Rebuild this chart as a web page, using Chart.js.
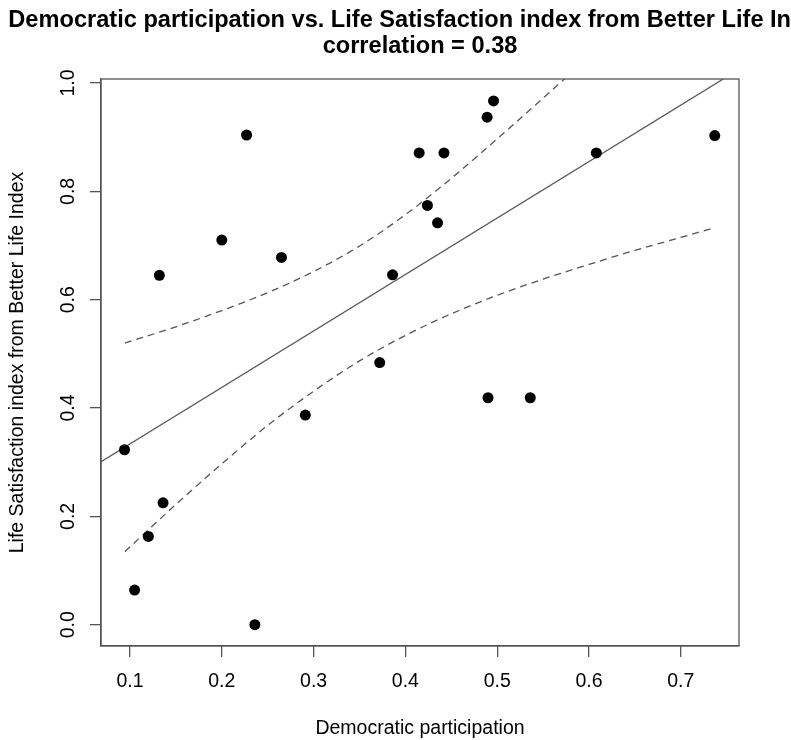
<!DOCTYPE html>
<html><head><meta charset="utf-8">
<script src="https://cdn.jsdelivr.net/npm/chart.js@4/dist/chart.umd.min.js"></script>
<style>html,body{margin:0;padding:0;background:#fff;} canvas{display:block;}</style>
</head><body>
<canvas id="c" width="791" height="740"></canvas>
<script>
const titleLines = ['Democratic participation vs. Life Satisfaction index from Better Life Index', 'correlation = 0.38'];
const xLabel = 'Democratic participation';
const yLabel = 'Life Satisfaction index from Better Life Index';
const xTicks = [0.1, 0.2, 0.3, 0.4, 0.5, 0.6, 0.7];
const xTickLabels = ['0.1', '0.2', '0.3', '0.4', '0.5', '0.6', '0.7'];
const yTicks = [0.0, 0.2, 0.4, 0.6, 0.8, 1.0];
const yTickLabels = ['0.0', '0.2', '0.4', '0.6', '0.8', '1.0'];
const xRange = [0.0684, 0.7634];
const yRange = [-0.0393, 1.0074];

const participation = [0.094, 0.105, 0.120, 0.136, 0.132, 0.200, 0.227, 0.236, 0.265, 0.291, 0.372, 0.386, 0.415, 0.424, 0.435, 0.442, 0.489, 0.490, 0.496, 0.536, 0.608, 0.737];
const satisfaction  = [0.323, 0.064, 0.163, 0.225, 0.645, 0.710, 0.904, 0.000, 0.678, 0.387, 0.484, 0.646, 0.871, 0.774, 0.742, 0.871, 0.937, 0.419, 0.967, 0.419, 0.871, 0.903];

const fitX = [0.0684, 0.7463];
const fitY = [0.301, 1.0074];
const upperX = [0.0944, 0.15, 0.20, 0.25, 0.30, 0.35, 0.40, 0.45, 0.50, 0.55, 0.58];
const upperY = [0.520, 0.550, 0.580, 0.613, 0.652, 0.699, 0.757, 0.824, 0.897, 0.972, 1.018];
const lowerX = [0.0944, 0.15, 0.20, 0.25, 0.30, 0.35, 0.40, 0.45, 0.50, 0.55, 0.60, 0.65, 0.70, 0.737];
const lowerY = [0.135, 0.222, 0.297, 0.368, 0.431, 0.487, 0.534, 0.574, 0.608, 0.638, 0.665, 0.691, 0.715, 0.733];

const FAMILY = '"Liberation Sans", Arial, Helvetica, sans-serif';
const AXIS_COLOR = '#555';
const pairs = (xs, ys) => xs.map((x, i) => ({x: x, y: ys[i]}));

const textPlugin = {
  id: 'rtext',
  afterDraw(chart) {
    const {ctx, chartArea, scales} = chart;
    ctx.save();
    ctx.strokeStyle = AXIS_COLOR;
    ctx.lineWidth = 1.3;
    ctx.strokeRect(chartArea.left, chartArea.top, chartArea.right - chartArea.left, chartArea.bottom - chartArea.top);
    ctx.fillStyle = '#000';
    ctx.textAlign = 'center';
    ctx.textBaseline = 'middle';
    const cx = (chartArea.left + chartArea.right) / 2;
    ctx.font = 'bold 23.6px ' + FAMILY;
    ctx.fillText(titleLines[0], cx, 20);
    ctx.fillText(titleLines[1], cx, 46);
    ctx.font = '19.5px ' + FAMILY;
    xTicks.forEach((v, i) => ctx.fillText(xTickLabels[i], scales.x.getPixelForValue(v), 682));
    yTicks.forEach((v, i) => {
      ctx.save();
      ctx.translate(68.5, scales.y.getPixelForValue(v));
      ctx.rotate(-Math.PI / 2);
      ctx.fillText(yTickLabels[i], 0, 0);
      ctx.restore();
    });
    ctx.restore();
  }
};

const lineStyle = {
  showLine: true, pointRadius: 0, pointHoverRadius: 0, borderColor: AXIS_COLOR,
  borderWidth: 1.3, fill: false, order: 1
};

new Chart(document.getElementById('c'), {
  type: 'scatter',
  data: {
    datasets: [
      {data: pairs(participation, satisfaction), pointRadius: 5.5, pointHoverRadius: 5.5,
       backgroundColor: '#000', borderWidth: 0, showLine: false, order: 0},
      Object.assign({data: pairs(fitX, fitY)}, lineStyle),
      Object.assign({data: pairs(upperX, upperY), borderDash: [7, 5], cubicInterpolationMode: 'monotone'}, lineStyle),
      Object.assign({data: pairs(lowerX, lowerY), borderDash: [7, 5], cubicInterpolationMode: 'monotone'}, lineStyle)
    ]
  },
  options: {
    responsive: false,
    animation: false,
    devicePixelRatio: 1,
    layout: {padding: {top: 79, right: 52, left: 0, bottom: 0}},
    plugins: {legend: {display: false}, tooltip: {enabled: false}, title: {display: false}},
    events: [],
    scales: {
      x: {
        type: 'linear', min: xRange[0], max: xRange[1],
        afterBuildTicks: s => { s.ticks = xTicks.map(v => ({value: v})); },
        afterFit: s => { s.height = 94; },
        ticks: {display: false},
        grid: {drawOnChartArea: false, drawTicks: true, tickLength: 11, color: AXIS_COLOR, lineWidth: 1.3},
        border: {display: true, color: AXIS_COLOR, width: 1.3},
        title: {display: true, text: xLabel, color: '#000', font: {size: 19.5, family: FAMILY}, padding: {top: 0, bottom: 0}}
      },
      y: {
        type: 'linear', min: yRange[0], max: yRange[1],
        afterBuildTicks: s => { s.ticks = yTicks.map(v => ({value: v})); },
        afterFit: s => { s.width = 101; },
        ticks: {display: false},
        grid: {drawOnChartArea: false, drawTicks: true, tickLength: 11, color: AXIS_COLOR, lineWidth: 1.3},
        border: {display: true, color: AXIS_COLOR, width: 1.3},
        title: {display: true, text: yLabel, color: '#000', font: {size: 19.5, family: FAMILY}, padding: {top: 6.3, bottom: 0}}
      }
    }
  },
  plugins: [textPlugin]
});
</script>
</body></html>
